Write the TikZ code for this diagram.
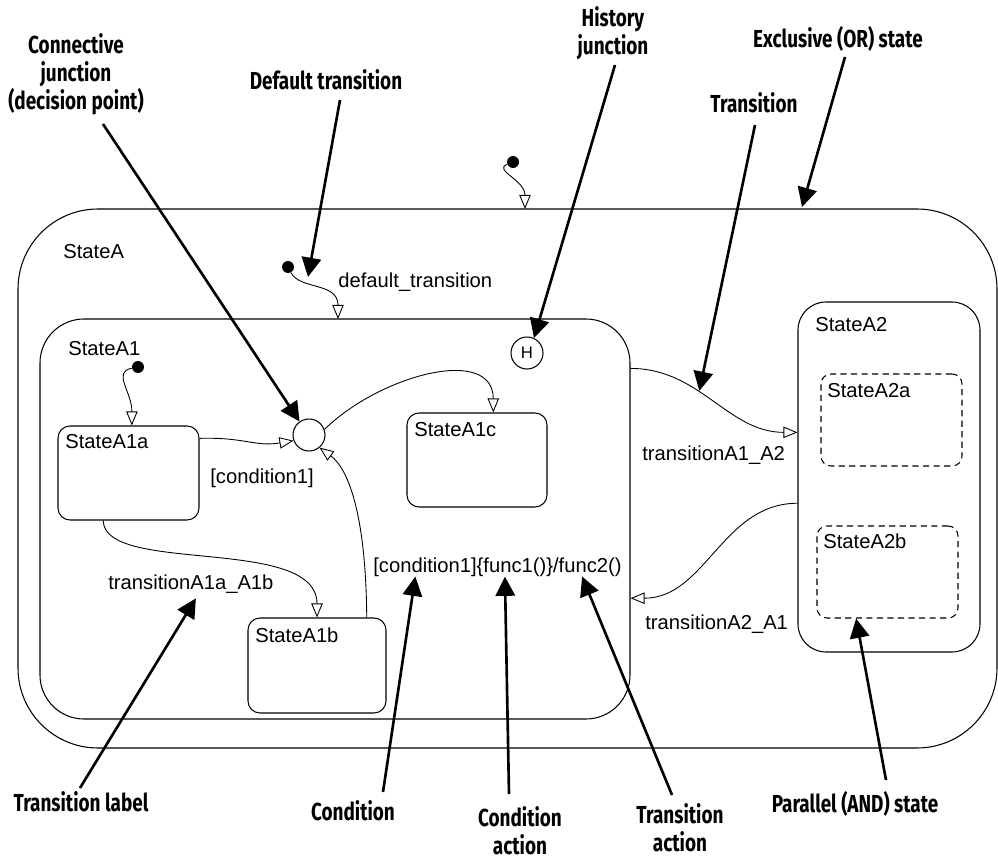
\documentclass[tikz,border=0pt]{standalone}
\usepackage{fontspec}
\setmainfont{Liberation Sans}
\newfontfamily\calloutfont[FakeStretch=0.77]{Fira Sans}
\usetikzlibrary{arrows.meta,fit,calc,positioning}
\tikzset{
    sfstate/.style={draw, rounded corners=#1, inner sep=0pt, line width=0.6pt},
    sfstate/.default=0.24cm,
    substate/.style={sfstate=0.2cm, dash pattern=on 3.5pt off 2.5pt},
    junc/.style={circle, draw, minimum size=0.64cm, inner sep=0pt, line width=0.6pt},
    dot/.style={circle, fill, minimum size=0.24cm, inner sep=0pt},
    trans/.style={draw, line width=0.5pt, -{Triangle[open, length=8pt, width=6.5pt]}},
    callout/.style={draw, line width=1.5pt, -{Triangle[length=11pt, width=11pt]}},
    lbl/.style={font=\fontsize{11.5}{13}\selectfont, inner sep=0pt, anchor=base west},
    note/.style={font=\calloutfont\bfseries\fontsize{14}{16}\selectfont, align=center, inner sep=1pt}
}
\begin{document}
\begin{tikzpicture}[x=0.02cm, y=0.02cm]
    \useasboundingbox (0,0) rectangle (998,-862);

    % States
    \node[sfstate=1.6cm, fit={(18,-209) (997,-748)}] (A) {};
    \node[sfstate=0.88cm, fit={(40,-319) (630,-719)}] (A1) {};
    \node[sfstate, fit={(58,-426) (199,-520)}] (A1a) {};
    \node[sfstate, fit={(248,-618) (386,-713)}] (A1b) {};
    \node[sfstate, fit={(407,-413) (547,-507)}] (A1c) {};
    \node[sfstate=0.56cm, fit={(798,-302) (980,-652)}] (A2) {};
    \node[substate, fit={(821,-374) (962,-466)}] (A2a) {};
    \node[substate, fit={(817,-526) (958,-618)}] (A2b) {};

    % state names
    \node[lbl] at (63,-258) {StateA};
    \node[lbl] at (68,-355) {StateA1};
    \node[lbl] at (65,-448) {StateA1a};
    \node[lbl] at (255,-642) {StateA1b};
    \node[lbl] at (414,-436) {StateA1c};
    \node[lbl] at (815,-331) {StateA2};
    \node[lbl] at (827,-397) {StateA2a};
    \node[lbl] at (823,-548) {StateA2b};

    % Junctions
    \node[junc] (J) at (309,-435) {};
    \node[junc, font=\fontsize{9.5}{10}\selectfont] (H) at (527,-353) {H};

    % default transitions
    \node[dot] (d0) at (513,-162) {};
    \node[dot] (d1) at (288,-267) {};
    \node[dot] (d2) at (138,-367) {};
    \coordinate (pA) at (525,-209);
    \coordinate (pA1) at (338,-319);
    \draw[trans] (d0) .. controls (493,-170) and (525,-180) .. (pA);
    \draw[trans] (d1) .. controls (300,-290) and (338,-282) .. (pA1);
    \draw[trans] (d2) .. controls (112,-372) and (132,-392) .. (A1a.86);
    \node[lbl] at (338,-287) {default\_transition};

    % transitions
    \draw[trans] (A1a.26) .. controls (245,-437) and (255,-447) .. (J.200);
    \node[lbl] at (210,-483) {[condition1]};
    \draw[trans] (J.20) .. controls (380,-375) and (493,-345) .. (A1c.71);
    \draw[trans] (A1a.242) .. controls (104,-575) and (317,-535) .. (A1b.north);
    \node[lbl] (tlA1aA1b) at (108,-589) {transitionA1a\_A1b};
    \draw[trans] (A1b.44) .. controls (366,-520) and (350,-470) .. (J.-50);
    \node[lbl] (tlCond) at (373,-572) {[condition1]\{func1()\}/func2()};
    \draw[trans] (A1.27.26) to[out=0, in=180] coordinate[pos=0.4] (tA1A2) (A2.154.2);
    \node[lbl] at (642,-460) {transitionA1\_A2};
    \draw[trans] (A2.196) to[out=180, in=0] (A1.-15.2);
    \node[lbl] at (645,-629) {transitionA2\_A1};

    % callouts
    \node[note] at (76,-74) {Connective\\junction\\(decision point)};
    \node[note, anchor=base] at (326,-89) {Default transition};
    \node[note] at (613,-33) {History\\junction};
    \node[note, anchor=base] at (838,-48) {Exclusive (OR) state};
    \node[note, anchor=base] at (754,-112) {Transition};
    \node[note, anchor=base] at (81,-811) {Transition label};
    \node[note, anchor=base] at (353,-820) {Condition};
    \node[note] at (520,-831) {Condition\\action};
    \node[note] at (680,-828) {Transition\\action};
    \node[note, anchor=base] at (855,-812) {Parallel (AND) state};

    \coordinate (tConn) at (103,-124);
    \coordinate (tDef) at (340,-100);
    \coordinate (pDef) at (308,-277);
    \coordinate (tHist) at (615,-65);
    \coordinate (tOR) at (845,-57);
    \coordinate (pOR) at (802,-207);
    \coordinate (tTrans) at (755,-125);
    \coordinate (tLabel) at (80,-788);
    \coordinate (tCond) at (383,-792);
    \coordinate (tCAct) at (509,-794);
    \coordinate (tTAct) at (672,-795);
    \coordinate (tPar) at (886,-780);

    \draw[callout] (tConn) -- (J.125);
    \draw[callout] (tDef) -- (pDef);
    \draw[callout] (tHist) -- (H.65);
    \draw[callout] (tOR) -- (pOR);
    \draw[callout] (tTrans) -- (tA1A2);
    \draw[callout] (tLabel) -- ([xshift=0.1cm, yshift=-0.1cm]tlA1aA1b.south);
    \draw[callout] (tCond) -- ($(tlCond.south west)!0.17!(tlCond.south east)$);
    \draw[callout] (tCAct) -- ($(tlCond.south west)!0.53!(tlCond.south east)$);
    \draw[callout] (tTAct) -- ($(tlCond.south west)!0.84!(tlCond.south east)$);
    \draw[callout] (tPar) -- (A2b.236.5);
\end{tikzpicture}
\end{document}
